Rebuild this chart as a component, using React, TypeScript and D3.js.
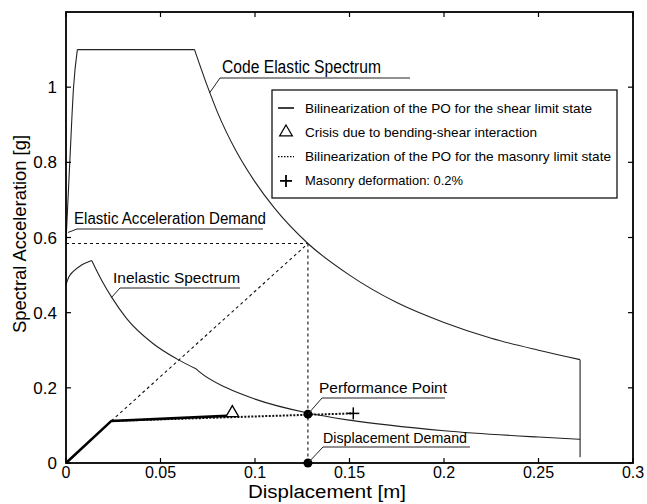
import React from 'react';
import * as d3 from 'd3';

// values (displacement m, acceleration g)
// code elastic spectrum: rising branch, plateau, descending branch, end drop
const elasticRiseSd = [0, 0.002, 0.004, 0.006];
const elasticRiseSa = [0.59, 0.8, 1.0, 1.1];
const elasticFallSd = [0.068, 0.075, 0.08, 0.09, 0.1, 0.11, 0.128, 0.15, 0.175, 0.2, 0.225, 0.25, 0.272];
const elasticFallSa = [1.1, 1.0, 0.935, 0.83, 0.748, 0.68, 0.584, 0.5, 0.427, 0.374, 0.332, 0.3, 0.275];
const elasticEndSa = 0.015;

// inelastic spectrum: rising branch, first descent, second descent after the kink
const inelRiseSd = [0, 0.0015, 0.0037, 0.008, 0.0136];
const inelRiseSa = [0.475, 0.495, 0.509, 0.526, 0.539];
const inelFall1Sd = [0.0136, 0.019, 0.0243, 0.032, 0.046, 0.0586, 0.069];
const inelFall1Sa = [0.539, 0.485, 0.44, 0.385, 0.318, 0.277, 0.25];
const inelFall2Sd = [0.069, 0.071, 0.085, 0.1, 0.128, 0.15, 0.2, 0.25, 0.272];
const inelFall2Sa = [0.25, 0.241, 0.2, 0.17, 0.133, 0.114, 0.086, 0.069, 0.063];

const shearSd = [0, 0.024, 0.088];
const shearSa = [0, 0.112, 0.126];

const masonrySd = [0.024, 0.152];
const masonrySa = [0.112, 0.132];

const crisisPoint = [0.088, 0.128];
const masonryPoint = [0.152, 0.132];
const perfPoint = [0.128, 0.13];
const elasticDemand = [0.128, 0.584];

const xTicks = [0, 0.05, 0.1, 0.15, 0.2, 0.25, 0.3];
const xTickLabels = ['0', '0.05', '0.1', '0.15', '0.2', '0.25', '0.3'];
const yTicks = [0, 0.2, 0.4, 0.6, 0.8, 1];
const yTickLabels = ['0', '0.2', '0.4', '0.6', '0.8', '1'];

const legendLabels = [
  'Bilinearization of the PO for the shear limit state',
  'Crisis due to bending-shear interaction',
  'Bilinearization of the PO for the masonry limit state',
  'Masonry deformation: 0.2%',
];
const legendWidths = [287, 232, 306, 158];

const W = 647, H = 504;
const L = 66, R = 633, T = 12, B = 463;
const font = '"Liberation Sans", Arial, sans-serif';

export default function App() {
  const x = d3.scaleLinear().domain([0, 0.3]).range([L, R]);
  const y = d3.scaleLinear().domain([0, 1.2]).range([B, T]);
  const zip = (a: number[], b: number[]) => a.map((v, i) => [v, b[i]] as [number, number]);
  const straight = d3.line<[number, number]>().x(d => x(d[0])).y(d => y(d[1]));
  const smooth = d3.line<[number, number]>().x(d => x(d[0])).y(d => y(d[1])).curve(d3.curveMonotoneX);

  const lastFall = elasticFallSd.length - 1;
  const elasticPath =
    (smooth(zip(elasticRiseSd, elasticRiseSa)) || '') +
    (straight([[elasticRiseSd[3], elasticRiseSa[3]], [elasticFallSd[0], elasticFallSa[0]]]) || '') +
    (smooth(zip(elasticFallSd, elasticFallSa)) || '') +
    (straight([[elasticFallSd[lastFall], elasticFallSa[lastFall]], [elasticFallSd[lastFall], elasticEndSa]]) || '');
  const inelasticPath =
    (smooth(zip(inelRiseSd, inelRiseSa)) || '') +
    (smooth(zip(inelFall1Sd, inelFall1Sa)) || '') +
    (smooth(zip(inelFall2Sd, inelFall2Sa)) || '');

  const px = x(perfPoint[0]);
  const py = y(perfPoint[1]);
  const ex = x(elasticDemand[0]);
  const ey = y(elasticDemand[1]);

  const tri = d3.symbol().type(d3.symbolTriangle).size(70)();
  const legX = 272, legY = 90, legW = 345, legH = 108;

  return (
    <svg width={W} height={H} style={{ position: 'absolute', left: 0, top: 0, background: '#fff' }} fontFamily={font}>
      <rect width={W} height={H} fill="#fff" />

      {/* dotted guide lines */}
      <g stroke="#111" strokeWidth={1.1} strokeDasharray="3,3" fill="none">
        <line x1={x(0)} y1={ey} x2={ex} y2={ey} />
        <line x1={ex} y1={ey} x2={ex} y2={B} />
        <line x1={x(shearSd[1])} y1={y(shearSa[1])} x2={ex} y2={ey} />
      </g>

      {/* spectra */}
      <path d={elasticPath} fill="none" stroke="#222" strokeWidth={1.1} />
      <path d={inelasticPath} fill="none" stroke="#222" strokeWidth={1.1} />

      {/* bilinearizations */}
      <path d={straight(zip(masonrySd, masonrySa)) || ''} fill="none" stroke="#111" strokeWidth={2} strokeDasharray="2,1.5" />
      <path d={straight(zip(shearSd, shearSa)) || ''} fill="none" stroke="#000" strokeWidth={2.6} />

      {/* markers */}
      <path d={tri || ''} transform={`translate(${x(crisisPoint[0])},${y(crisisPoint[1]) - 2})`} fill="#fff" stroke="#000" strokeWidth={1.3} />
      <g stroke="#000" strokeWidth={1.5}>
        <line x1={x(masonryPoint[0]) - 6} x2={x(masonryPoint[0]) + 6} y1={y(masonryPoint[1])} y2={y(masonryPoint[1])} />
        <line x1={x(masonryPoint[0])} x2={x(masonryPoint[0])} y1={y(masonryPoint[1]) - 6} y2={y(masonryPoint[1]) + 6} />
      </g>
      <circle cx={px} cy={py} r={4.5} fill="#000" />
      <circle cx={px} cy={B} r={4.5} fill="#000" />

      {/* annotations */}
      <g stroke="#222" strokeWidth={1} fill="none">
        <polyline points={`${x(0.076)},${y(0.985)} 220,78 410,78`} />
        <polyline points={`${x(0.001)},${y(0.6) - 5} 77,229 263,229`} />
        <polyline points={`${x(0.024)},${y(0.44)} 120,288 240,288`} />
        <polyline points={`${px},${py} 322,398 445,398`} />
        <polyline points={`${px},${B} 323,447 470,447`} />
      </g>
      <g fontSize={15} fill="#000">
        <text x={222} y={73} fontSize={18} textLength={159} lengthAdjust="spacingAndGlyphs">Code Elastic Spectrum</text>
        <text x={74} y={224} fontSize={16} textLength={192} lengthAdjust="spacingAndGlyphs">Elastic Acceleration Demand</text>
        <text x={113} y={283} textLength={127} lengthAdjust="spacingAndGlyphs">Inelastic Spectrum</text>
        <text x={319} y={393} textLength={128} lengthAdjust="spacingAndGlyphs">Performance Point</text>
        <text x={323} y={443} textLength={144} lengthAdjust="spacingAndGlyphs">Displacement Demand</text>
      </g>

      {/* legend */}
      <rect x={legX} y={legY} width={legW} height={legH} fill="#fff" stroke="#000" strokeWidth={1.2} />
      {legendLabels.map((lab, i) => {
        const cy = legY + 18 + i * 24.3;
        const sx = legX + 14;
        return (
          <g key={lab}>
            {i === 0 && <line x1={sx - 8} x2={sx + 8} y1={cy} y2={cy} stroke="#000" strokeWidth={1.5} />}
            {i === 1 && <path d={tri || ''} transform={`translate(${sx},${cy})`} fill="#fff" stroke="#000" strokeWidth={1.2} />}
            {i === 2 && <line x1={sx - 8} x2={sx + 8} y1={cy} y2={cy} stroke="#000" strokeWidth={1.2} strokeDasharray="1.5,1.5" />}
            {i === 3 && (
              <g stroke="#000" strokeWidth={1.8}>
                <line x1={sx - 6} x2={sx + 6} y1={cy} y2={cy} />
                <line x1={sx} x2={sx} y1={cy - 6} y2={cy + 6} />
              </g>
            )}
            <text x={legX + 33} y={cy + 4.5} fontSize={13} fill="#000" textLength={legendWidths[i]} lengthAdjust="spacingAndGlyphs">{lab}</text>
          </g>
        );
      })}

      {/* axes box */}
      <rect x={L} y={T} width={R - L} height={B - T} fill="none" stroke="#000" strokeWidth={1.8} />
      <g stroke="#000" strokeWidth={1.2}>
        {xTicks.map(t => (
          <g key={'x' + t}>
            <line x1={x(t)} x2={x(t)} y1={B} y2={B - 5} />
            <line x1={x(t)} x2={x(t)} y1={T} y2={T + 5} />
          </g>
        ))}
        {yTicks.map(t => (
          <g key={'y' + t}>
            <line x1={L} x2={L + 5} y1={y(t)} y2={y(t)} />
            <line x1={R} x2={R - 5} y1={y(t)} y2={y(t)} />
          </g>
        ))}
      </g>
      <g fontSize={16} fill="#000">
        {xTicks.map((t, i) => (
          <text key={'xl' + t} x={x(t)} y={B + 15} textAnchor="middle">{xTickLabels[i]}</text>
        ))}
      </g>
      <g fontSize={17} fill="#000">
        {yTicks.map((t, i) => (
          <text key={'yl' + t} x={L - 9} y={y(t) + 6} textAnchor="end">{yTickLabels[i]}</text>
        ))}
      </g>
      <text x={327} y={498} textAnchor="middle" fontSize={18} fill="#000" textLength={158} lengthAdjust="spacingAndGlyphs">Displacement [m]</text>
      <text transform={`translate(26,234) rotate(-90)`} textAnchor="middle" fontSize={19} fill="#000" textLength={198} lengthAdjust="spacingAndGlyphs">Spectral Acceleration [g]</text>
    </svg>
  );
}
